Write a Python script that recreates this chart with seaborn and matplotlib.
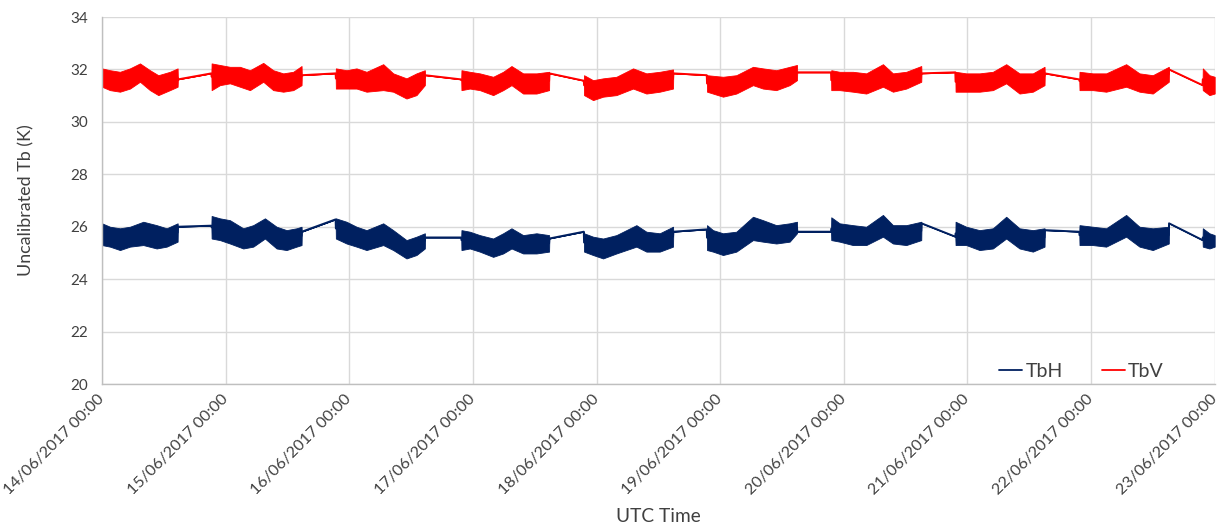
import numpy as np
import pandas as pd
import matplotlib
matplotlib.use("Agg")
import matplotlib.pyplot as plt
import matplotlib.transforms as mtransforms
from matplotlib.lines import Line2D
import seaborn as sns

# ---------------- data (hours after 14/06/2017 00:00, envelope low/high in K) -------------
start = pd.Timestamp("2017-06-14 00:00")
tick_days = ["14/06/2017 00:00", "15/06/2017 00:00", "16/06/2017 00:00", "17/06/2017 00:00",
             "18/06/2017 00:00", "19/06/2017 00:00", "20/06/2017 00:00", "21/06/2017 00:00",
             "22/06/2017 00:00", "23/06/2017 00:00"]
series_names = ["TbH", "TbV"]

tbv_hours = [0.00, 1.55, 3.49, 5.43, 7.37, 9.31, 10.93, 13.19, 14.68, 14.73,
             21.23, 21.28, 22.89, 24.83, 26.78, 28.72, 31.30, 33.24, 35.18, 37.12, 38.74, 38.79,
             45.35, 45.40, 47.47, 49.41, 51.35, 54.59, 56.53, 59.11, 61.05, 62.67, 62.72,
             69.73, 69.78, 71.40, 73.34, 75.93, 77.87, 79.49, 81.75, 84.34, 86.79, 86.84,
             93.53, 93.58, 95.33, 97.27, 99.86, 103.09, 105.68, 108.27, 110.85, 110.90,
             117.40, 117.45, 120.55, 123.14, 126.37, 128.31, 130.90, 133.49, 134.91, 134.96,
             141.52, 141.57, 143.19, 145.78, 148.36, 151.60, 153.54, 156.13, 159.04, 159.09,
             165.65, 165.70, 167.77, 170.35, 172.94, 175.53, 178.11, 180.70, 182.97, 183.02,
             189.71, 189.76, 192.34, 194.93, 198.81, 201.40, 203.98, 207.09, 207.14,
             213.64, 213.69, 214.98, 216.00]
tbv_low = [31.34, 31.21, 31.15, 31.27, 31.53, 31.21, 31.02, 31.21, 31.34, 31.62,
           31.85, 31.21, 31.40, 31.47, 31.34, 31.21, 31.53, 31.21, 31.15, 31.21, 31.40, 31.78,
           31.85, 31.27, 31.27, 31.27, 31.15, 31.21, 31.15, 30.89, 31.02, 31.40, 31.78,
           31.62, 31.21, 31.27, 31.21, 31.02, 31.21, 31.40, 31.08, 31.08, 31.21, 31.85,
           31.57, 31.02, 30.83, 30.96, 31.02, 31.27, 31.08, 31.15, 31.27, 31.85,
           31.78, 31.15, 30.96, 31.08, 31.40, 31.27, 31.21, 31.40, 31.59, 31.89,
           31.89, 31.21, 31.21, 31.15, 31.08, 31.34, 31.15, 31.27, 31.53, 31.85,
           31.89, 31.15, 31.15, 31.15, 31.21, 31.47, 31.08, 31.15, 31.40, 31.85,
           31.62, 31.21, 31.21, 31.15, 31.34, 31.15, 31.08, 31.53, 32.00,
           31.40, 31.21, 31.02, 31.08]
tbv_high = [32.04, 31.97, 31.91, 32.04, 32.23, 31.97, 31.78, 31.91, 32.04, 31.62,
            31.85, 32.23, 32.17, 32.10, 32.10, 31.97, 32.25, 31.97, 31.85, 31.91, 32.13, 31.78,
            31.85, 32.04, 31.97, 32.04, 31.91, 32.20, 31.85, 31.66, 31.85, 31.97, 31.78,
            31.62, 31.97, 31.91, 31.85, 31.72, 31.91, 32.13, 31.85, 31.85, 31.91, 31.85,
            31.57, 31.78, 31.59, 31.66, 31.72, 32.04, 31.85, 31.91, 32.00, 31.85,
            31.78, 31.78, 31.72, 31.78, 32.10, 32.04, 31.97, 32.10, 32.17, 31.89,
            31.89, 31.97, 31.91, 31.91, 31.85, 32.20, 31.85, 31.91, 32.13, 31.85,
            31.89, 31.91, 31.85, 31.85, 31.91, 32.20, 31.85, 31.85, 32.10, 31.85,
            31.62, 31.91, 31.85, 31.85, 32.20, 31.85, 31.78, 32.10, 32.00,
            31.40, 32.04, 31.78, 31.72]

tbh_hours = [0.00, 1.55, 3.49, 5.43, 8.02, 10.61, 12.55, 14.68, 14.73,
             21.23, 21.28, 22.89, 24.83, 27.42, 29.36, 31.63, 33.89, 35.83, 37.77, 38.74, 38.79,
             45.35, 45.40, 47.47, 49.41, 51.35, 54.59, 56.53, 59.11, 61.05, 62.67, 62.72,
             69.73, 69.78, 71.40, 73.34, 75.93, 77.87, 79.49, 81.75, 84.34, 86.79, 86.84,
             93.53, 93.58, 95.33, 97.27, 99.86, 103.74, 105.68, 108.27, 110.85, 110.90,
             117.40, 117.45, 118.61, 120.55, 123.14, 126.37, 128.31, 130.90, 133.49, 134.91, 134.96,
             141.52, 141.57, 143.19, 145.78, 148.36, 151.60, 153.54, 156.13, 159.04, 159.09,
             165.65, 165.70, 167.77, 170.35, 172.94, 175.53, 178.11, 180.70, 182.97, 183.02,
             189.71, 189.76, 192.34, 194.93, 198.81, 201.40, 203.98, 207.09, 207.14,
             213.64, 213.69, 214.98, 216.00]
tbh_low = [25.30, 25.24, 25.11, 25.24, 25.30, 25.17, 25.24, 25.43, 26.00,
           26.04, 25.55, 25.49, 25.36, 25.17, 25.24, 25.55, 25.17, 25.11, 25.24, 25.30, 25.81,
           26.28, 25.55, 25.36, 25.24, 25.11, 25.30, 25.11, 24.79, 24.92, 25.17, 25.59,
           25.59, 25.11, 25.17, 25.05, 24.85, 24.98, 25.17, 24.98, 24.98, 25.05, 25.55,
           25.81, 25.05, 24.92, 24.79, 24.98, 25.24, 25.05, 25.05, 25.24, 25.81,
           25.90, 25.11, 25.05, 24.92, 25.05, 25.49, 25.43, 25.36, 25.43, 25.75, 25.81,
           25.81, 25.49, 25.43, 25.30, 25.30, 25.62, 25.36, 25.30, 25.49, 26.13,
           25.62, 25.30, 25.30, 25.11, 25.17, 25.55, 25.17, 25.05, 25.24, 25.87,
           25.81, 25.30, 25.30, 25.24, 25.62, 25.24, 25.11, 25.36, 26.13,
           25.49, 25.24, 25.17, 25.24]
tbh_high = [26.13, 26.00, 25.94, 26.00, 26.19, 26.06, 25.94, 26.13, 26.00,
            26.04, 26.41, 26.32, 26.25, 25.94, 26.06, 26.32, 26.00, 25.87, 25.94, 26.00, 25.81,
            26.28, 26.32, 26.19, 26.00, 25.87, 26.13, 25.87, 25.49, 25.62, 25.75, 25.59,
            25.59, 25.87, 25.81, 25.68, 25.55, 25.75, 25.94, 25.68, 25.75, 25.68, 25.55,
            25.81, 25.75, 25.62, 25.55, 25.68, 26.06, 25.81, 25.75, 26.00, 25.81,
            25.90, 26.06, 25.87, 25.75, 25.81, 26.38, 26.25, 26.06, 26.13, 26.19, 25.81,
            25.81, 26.36, 26.13, 26.06, 26.00, 26.45, 26.06, 26.06, 26.19, 26.13,
            25.62, 26.19, 26.00, 25.87, 25.94, 26.38, 25.94, 25.87, 25.94, 25.87,
            25.81, 26.06, 26.00, 25.94, 26.45, 26.00, 25.94, 26.00, 26.13,
            25.49, 25.94, 25.75, 25.68]

colors = {"TbH": "#002060", "TbV": "#FF0000"}


def long_form(hours, low, high, name):
    h = np.repeat(np.asarray(hours, dtype=float), 2)
    y = np.column_stack([low, high]).ravel()
    return pd.DataFrame({"time": start + pd.to_timedelta(h, unit="h"), "Tb": y, "series": name})


df = pd.concat([long_form(tbh_hours, tbh_low, tbh_high, "TbH"),
                long_form(tbv_hours, tbv_low, tbv_high, "TbV")], ignore_index=True)

# ---------------- figure -------------------------------------------------------------------
sns.set_style("white")
plt.rcParams["font.family"] = ["Lato", "DejaVu Sans"]
text_color = "#404040"

fig = plt.figure(figsize=(12.23, 5.28), dpi=100)
ax = fig.add_axes([0.0834, 0.2727, 0.9098, 0.6951])

sns.lineplot(data=df, x="time", y="Tb", hue="series", hue_order=series_names,
             palette=colors, estimator="mean", errorbar=("pi", 100),
             err_kws={"alpha": 1.0, "linewidth": 0.6}, linewidth=1.4, legend=False, ax=ax)

ax.set_ylim(20, 34)
ax.set_yticks(np.arange(20, 35, 2))
ticks = pd.to_datetime(tick_days, format="%d/%m/%Y %H:%M")
ax.set_xlim(ticks[0], ticks[-1])
ax.set_xticks(ticks)
labels = ax.set_xticklabels(tick_days, rotation=45, ha="right", va="center",
                            rotation_mode="anchor", fontsize=11.6, color=text_color)
shift = mtransforms.ScaledTranslation(5 / 100, 0, fig.dpi_scale_trans)
for lab in labels:
    lab.set_transform(lab.get_transform() + shift)
ax.tick_params(axis="y", labelsize=11, colors=text_color, length=0, pad=10)
ax.tick_params(axis="x", length=0, pad=9)

ax.grid(True, color="#D9D9D9", linewidth=1.0)
ax.set_axisbelow(True)
for s in ["top", "right"]:
    ax.spines[s].set_visible(False)
for s in ["left", "bottom"]:
    ax.spines[s].set_color("#BFBFBF")
    ax.spines[s].set_linewidth(1.0)

ax.set_ylabel("Uncalibrated Tb (K)", fontsize=12.9, color=text_color, labelpad=26)
ax.set_xlabel("UTC Time", fontsize=13.8, color=text_color, labelpad=8)

handles = [Line2D([], [], color=colors[n], linewidth=1.3) for n in series_names]
ax.legend(handles, series_names, ncol=2, loc="lower right", bbox_to_anchor=(0.954, 0.012),
          frameon=False, fontsize=14, handlelength=1.2, handletextpad=0.15,
          columnspacing=2.0, borderpad=0, borderaxespad=0, labelcolor=text_color)

fig.savefig("out.png", dpi=100)
